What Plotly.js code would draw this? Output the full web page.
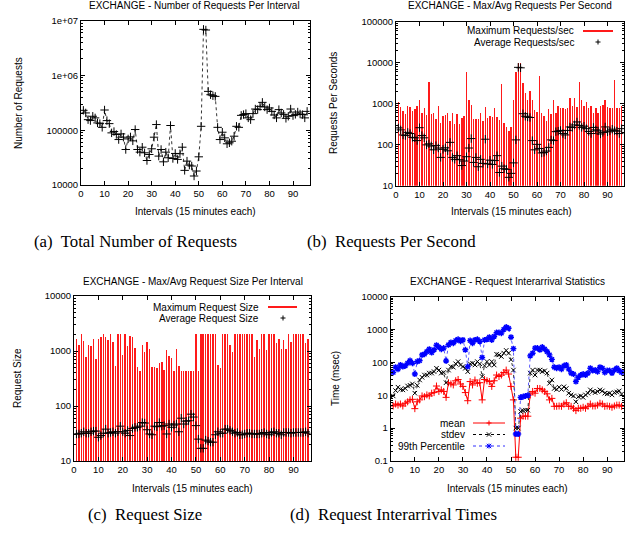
<!DOCTYPE html>
<html><head><meta charset="utf-8">
<script src="https://cdn.plot.ly/plotly-3.0.1.min.js"></script>
<style>html,body{margin:0;padding:0;background:#fff}#chart{width:629px;height:533px}</style>
</head><body><div id="chart"></div>
<script>
// ---------- data ----------
const intervals = Array.from({length: 96}, (_, i) => i + 1);
const xTickVals = [0, 10, 20, 30, 40, 50, 60, 70, 80, 90];

// (a) number of requests per interval
const totalRequests = [231000,207000,156000,150000,180000,168000,136000,132000,113000,234000,
  150000,132000,89500,94600,83500,67600,85800,74600,44500,69500,
  75600,64000,103000,44500,39800,49000,38700,28000,36100,45800,
  74600,127000,33700,44500,26500,39800,31400,122000,30500,37700,
  29300,37200,49000,18500,27300,23100,22200,14600,18000,32700,
  118000,6950000,6760000,512000,445000,427000,415000,113000,67600,92000,
  72600,56500,58900,63000,77800,118000,113000,187000,193000,201000,
  168000,156000,201000,244000,238000,273000,323000,266000,238000,255000,
  221000,190000,168000,238000,207000,195000,165000,180000,244000,185000,
  195000,215000,198000,193000,168000,221000];

// (b) requests per second
const maxReqPerSec = [1100,850,650,560,870,850,680,750,870,1200,
  580,800,520,3400,560,580,420,900,340,500,
  520,600,380,580,320,550,320,460,500,6000,
  1200,950,420,420,420,600,370,850,440,500,
  480,800,480,400,3100,340,270,210,270,1200,
  5800,10000,10000,3200,1800,1200,2000,1200,700,620,
  4800,600,500,380,750,550,1200,600,900,800,
  780,750,800,1400,900,1400,850,3300,1200,880,
  1100,780,900,600,780,600,900,950,1250,850,
  800,800,3700,800,800,900];
const avgReqPerSec = [257,230,173,167,200,187,151,147,126,260,
  167,147,99,105,93,75,95,83,49,77,
  84,71,114,49,44,54,43,31,40,51,
  83,141,37,49,29,44,35,136,34,42,
  33,41,54,21,30,26,25,16,20,36,
  131,7700,7500,570,494,474,461,126,75,102,
  81,63,65,70,86,131,126,208,214,223,
  187,173,223,271,264,303,359,296,264,283,
  246,211,187,264,230,217,183,200,271,206,
  217,239,220,214,187,246];

// (c) request size
const maxReqSize = [1630,1290,2000,1540,790,1290,1240,1630,730,1650,
  1770,2000,1800,1580,2000,1480,540,2000,2000,840,
  2000,1230,1880,1770,1120,520,440,1290,970,1480,
  1070,520,520,500,600,640,460,1050,810,760,
  430,1070,540,440,440,440,440,440,440,2000,
  440,2000,2000,2000,2000,2000,2000,2000,560,500,
  2000,2000,2000,1290,970,2000,2000,2000,2000,2000,
  2000,2000,2000,790,1580,1070,2000,2000,1050,2000,
  2000,2000,1420,1630,1070,1580,1070,2000,1480,2000,
  2000,2000,2000,2000,1420,1630];
const avgReqSize = [31,31,32,34,32,32,34,35,35,27,
  29,32,38,32,33,34,32,34,43,34,
  32,36,29,39,41,41,43,50,49,37,
  31,30,43,42,50,43,44,31,47,41,
  45,47,34,60,47,53,54,71,63,44,
  25,17,17,24,23,22,22,30,34,32,
  32,38,38,36,34,32,33,30,30,31,
  32,32,31,31,31,31,32,33,31,30,
  33,34,32,32,30,33,33,33,32,33,
  33,33,33,33,34,32];

// (d) interarrival statistics (msec)
const meanMs = [4.7,5.4,5.0,5.4,4.7,5.7,6.3,7.2,7.5,3.9,
  6.3,7.2,9.5,9.0,10.2,9.5,11.5,12,19,13,
  14.5,13,8.6,24,22,20.5,27.5,30,22,18.5,
  12,6.8,26,20.5,29,23,24,7.2,30,27.5,
  26,18.5,27.5,41,37,41,49,58,44,18.5,
  7.2,0.13,0.13,2.0,2.3,2.3,2.3,10.2,13,11.5,
  16,16,14.5,13,11,7.2,8,4.6,4.6,4.7,
  4.6,5.4,5.9,4.6,4.6,4.0,3.4,4.0,4.0,4.3,
  4.0,4.6,5.4,4.7,4.7,5.0,5.7,5.4,4.6,4.7,
  4.6,4.3,4.7,5.0,5.0,4.6];
const stdevMs = [9.5,13.8,17.5,15,14.5,16,19,20,22,11.5,
  20,29,35,41,41,47,47,52,66,58,
  47,49,24,58,74,71,90,105,83,74,
  66,52,90,94,83,105,90,37,78,105,
  83,105,83,176,168,150,190,230,190,120,
  58,1.0,1.0,3.2,3.4,3.5,3.5,47,58,41,
  58,58,52,55,47,23,29,16,15,17.5,
  15,18,16,11.5,10.2,9.5,6.3,9,9.5,8.6,
  10.2,11.5,14.5,13,12,13,14.5,13.5,11.5,11,
  11.5,10.2,12,12.5,13.5,10.8];
const p99Ms = [49,71,62,83,74,78,94,113,94,44,
  105,113,168,176,212,250,198,240,330,290,
  250,270,110,340,400,380,460,500,440,480,
  240,74,460,380,480,500,430,140,480,500,
  580,480,610,800,800,770,1000,1180,1080,580,
  260,0.66,0.66,8.6,9.0,9.5,9.9,157,189,270,
  270,240,290,250,212,168,123,71,66,71,
  62,78,83,62,47,44,26,35,41,44,
  41,47,66,56,58,52,71,66,49,56,
  56,47,58,66,56,49];

// tick labels
const yTicksA = [10000, 100000, 1000000, 10000000];
const yLabelsA = ['10000', '100000', '1e+06', '1e+07'];
const yTicksB = [10, 100, 1000, 10000, 100000];
const yLabelsB = ['10', '100', '1000', '10000', '100000'];
const yTicksC = [10, 100, 1000, 10000];
const yLabelsC = ['10', '100', '1000', '10000'];
const yTicksD = [0.1, 1, 10, 100, 1000, 10000];
const yLabelsD = ['0.1', '1', '10', '100', '1000', '10000'];

// ---------- helpers ----------
const W = 629, H = 533;
const px = x => x / W, py = y => 1 - y / H;
const SANS = 'Liberation Sans, Arial, Helvetica, sans-serif';
const SERIF = 'Liberation Serif, Times New Roman, serif';

function minorVals(lo, hi) {
  const v = [];
  for (let e = lo; e < hi; e++) for (let m = 2; m <= 9; m++) v.push(m * Math.pow(10, e));
  return v;
}
function xAxis(x0, x1, anchor) {
  return {domain: [px(x0), px(x1)], anchor: anchor, range: [0, 97], tickmode: 'array',
    tickvals: xTickVals, ticks: 'inside', ticklen: 4, tickwidth: 1, tickcolor: '#000',
    showline: true, linecolor: '#000', linewidth: 1, mirror: 'allticks', showgrid: false,
    zeroline: false, tickfont: {family: SANS, size: 9.5, color: '#000'}, fixedrange: true};
}
function yAxis(y0, y1, anchor, lo, hi, vals, labels) {
  return {domain: [py(y1), py(y0)], anchor: anchor, type: 'log', range: [lo, hi],
    tickmode: 'array', tickvals: vals, ticktext: labels, ticks: 'inside', ticklen: 4,
    tickwidth: 1, tickcolor: '#000', showline: true, linecolor: '#000', linewidth: 1,
    mirror: 'allticks', showgrid: false, zeroline: false,
    minor: {tickmode: 'array', tickvals: minorVals(lo, hi), ticks: 'inside', ticklen: 2,
      tickwidth: 1, tickcolor: '#000', showgrid: false},
    tickfont: {family: SANS, size: 9.5, color: '#000'}, fixedrange: true};
}

const plusMarker = (c, s) => ({symbol: 'cross-thin', size: s, color: c, line: {width: 1, color: c}});

// ---------- traces ----------
const traces = [
  {type: 'scatter', mode: 'lines+markers', x: intervals, y: totalRequests, xaxis: 'x', yaxis: 'y',
    line: {color: '#000', width: 0.8, dash: 'dot'}, marker: plusMarker('#000', 6), name: 'Requests'},
  {type: 'bar', x: intervals, y: maxReqPerSec, xaxis: 'x2', yaxis: 'y2', width: 0.6,
    marker: {color: '#ff1a1a', line: {width: 0}}, name: 'Maximum Requests/sec'},
  {type: 'scatter', mode: 'markers', x: intervals, y: avgReqPerSec, xaxis: 'x2', yaxis: 'y2',
    marker: plusMarker('#000', 6), name: 'Average Requests/sec'},
  {type: 'bar', x: intervals, y: maxReqSize, xaxis: 'x3', yaxis: 'y3', width: 0.6,
    marker: {color: '#ff1a1a', line: {width: 0}}, name: 'Maximum Request Size'},
  {type: 'scatter', mode: 'markers', x: intervals, y: avgReqSize, xaxis: 'x3', yaxis: 'y3',
    marker: plusMarker('#000', 6), name: 'Average Request Size'},
  {type: 'scatter', mode: 'lines+markers', x: intervals, y: meanMs, xaxis: 'x4', yaxis: 'y4',
    line: {color: '#ff0000', width: 1}, marker: plusMarker('#ff0000', 5), name: 'mean'},
  {type: 'scatter', mode: 'lines+markers', x: intervals, y: stdevMs, xaxis: 'x4', yaxis: 'y4',
    line: {color: '#000', width: 0.8, dash: 'dot'},
    marker: {symbol: 'x-thin', size: 4.5, color: '#000', line: {width: 1, color: '#000'}}, name: 'stdev'},
  {type: 'scatter', mode: 'lines+markers', x: intervals, y: p99Ms, xaxis: 'x4', yaxis: 'y4',
    line: {color: '#3030ff', width: 0.8, dash: 'dot'},
    marker: {symbol: 'asterisk-open', size: 5, color: '#0000ff', line: {width: 1.4, color: '#0000ff'}},
    name: '99th Percentile'}
];

// ---------- annotations ----------
const ann = [];
function txt(x, y, t, opts) {
  ann.push(Object.assign({xref: 'paper', yref: 'paper', x: px(x), y: py(y), text: t, showarrow: false,
    xanchor: 'center', yanchor: 'middle', font: {family: SANS, size: 10, color: '#000'}}, opts || {}));
}
// subplot titles
txt(194, 6, 'EXCHANGE - Number of Requests Per Interval');
txt(510, 6, 'EXCHANGE - Max/Avg Requests Per Second');
txt(192.5, 281, 'EXCHANGE - Max/Avg Request Size Per Interval');
txt(507.5, 281, 'EXCHANGE - Request Interarrival Statistics');
// axis titles
txt(195.5, 211.5, 'Intervals (15 minutes each)');
txt(511, 211.5, 'Intervals (15 minutes each)');
txt(192.5, 488, 'Intervals (15 minutes each)');
txt(507, 488, 'Intervals (15 minutes each)');
txt(18, 103, 'Number of Requests', {textangle: -90});
txt(333, 103, 'Requests Per Seconds', {textangle: -90});
txt(17, 378, 'Request Size', {textangle: -90});
txt(335, 379, 'Time (msec)', {textangle: -90});
// captions
const capFont = {family: SERIF, size: 16.8, color: '#000'};
txt(135, 241.5, '(a)  Total Number of Requests', {font: capFont});
txt(391, 241.5, '(b)  Requests Per Second', {font: capFont});
txt(145, 514, '(c)  Request Size', {font: capFont});
txt(393, 514, '(d)  Request Interarrival Times', {font: capFont});
// legends (gnuplot style: text right-aligned, sample on the right)
txt(576, 31, 'Maximum Requests/sec', {xanchor: 'right'});
txt(576, 42, 'Average Requests/sec', {xanchor: 'right'});
txt(261, 307, 'Maximum Request Size', {xanchor: 'right'});
txt(261, 318, 'Average Request Size', {xanchor: 'right'});
txt(467, 423, 'mean', {xanchor: 'right'});
txt(467, 434.5, 'stdev', {xanchor: 'right'});
txt(467, 446, '99th Percentile', {xanchor: 'right'});

// legend samples as shapes
const shapes = [];
function seg(x0, y0, x1, y1, color, width, dash) {
  shapes.push({type: 'line', xref: 'paper', yref: 'paper', x0: px(x0), y0: py(y0), x1: px(x1), y1: py(y1),
    line: {color: color, width: width, dash: dash || 'solid'}});
}
function plus(cx, cy, c) { seg(cx - 2.5, cy, cx + 2.5, cy, c, 1); seg(cx, cy - 2.5, cx, cy + 2.5, c, 1); }
function cross(cx, cy, c) { seg(cx - 2.2, cy - 2.2, cx + 2.2, cy + 2.2, c, 1); seg(cx - 2.2, cy + 2.2, cx + 2.2, cy - 2.2, c, 1); }
function star(cx, cy, c) { plus(cx, cy, c); cross(cx, cy, c); }
seg(583, 31, 613, 31, '#ff1a1a', 2); plus(598, 42, '#000');
seg(268, 307, 297, 307, '#ff1a1a', 2); plus(283, 318, '#000');
seg(473, 423, 505, 423, '#ff0000', 1); plus(489, 423, '#ff0000');
seg(473, 434.5, 505, 434.5, '#000', 1, 'dot'); cross(489, 434.5, '#000');
seg(473, 446, 505, 446, '#3030ff', 1, 'dot'); star(489, 446, '#0000ff');

const layout = {
  width: W, height: H, margin: {l: 0, r: 0, t: 0, b: 0}, paper_bgcolor: '#fff', plot_bgcolor: '#fff',
  showlegend: false, bargap: 0,
  xaxis: xAxis(81, 309.5, 'y'),
  yaxis: yAxis(20.7, 185, 'x', 4, 7, yTicksA, yLabelsA),
  xaxis2: xAxis(396, 624, 'y2'),
  yaxis2: yAxis(21.7, 185.7, 'x2', 1, 5, yTicksB, yLabelsB),
  xaxis3: xAxis(74, 310.5, 'y3'),
  yaxis3: yAxis(296, 461, 'x3', 1, 4, yTicksC, yLabelsC),
  xaxis4: xAxis(390.8, 624, 'y4'),
  yaxis4: yAxis(296.5, 461, 'x4', -1, 4, yTicksD, yLabelsD),
  annotations: ann, shapes: shapes
};
Plotly.newPlot('chart', traces, layout, {staticPlot: true, displayModeBar: false});
</script></body></html>
